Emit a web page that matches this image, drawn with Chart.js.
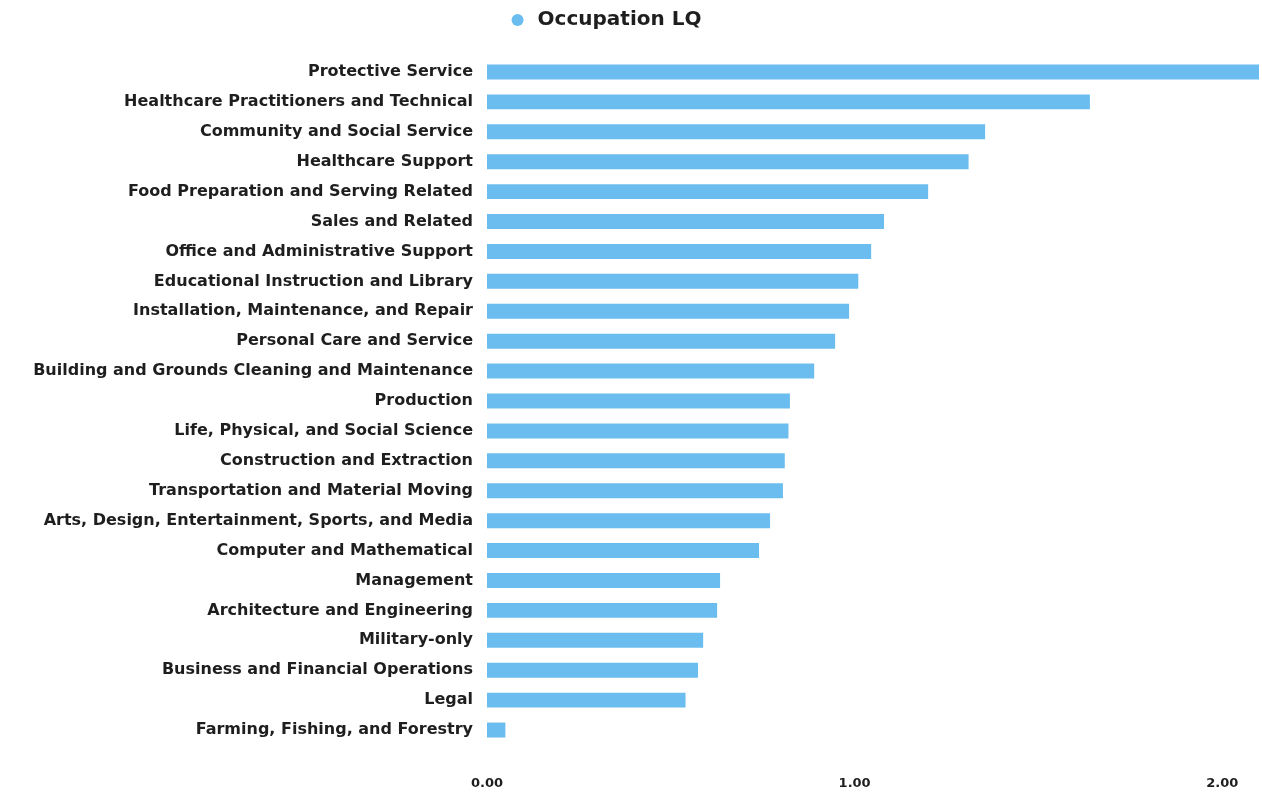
<!DOCTYPE html>
<html>
<head>
<meta charset="utf-8">
<script src="https://cdn.jsdelivr.net/npm/chart.js@4.4.0/dist/chart.umd.min.js"></script>
<style>
    body { margin: 0; background: #ffffff; }
    #wrap { width: 1262px; height: 794px; }
</style>
</head>
<body>
<div id="wrap"><canvas id="lqChart"></canvas></div>
<script>
const occupations = [
    "Protective Service",
    "Healthcare Practitioners and Technical",
    "Community and Social Service",
    "Healthcare Support",
    "Food Preparation and Serving Related",
    "Sales and Related",
    "Office and Administrative Support",
    "Educational Instruction and Library",
    "Installation, Maintenance, and Repair",
    "Personal Care and Service",
    "Building and Grounds Cleaning and Maintenance",
    "Production",
    "Life, Physical, and Social Science",
    "Construction and Extraction",
    "Transportation and Material Moving",
    "Arts, Design, Entertainment, Sports, and Media",
    "Computer and Mathematical",
    "Management",
    "Architecture and Engineering",
    "Military-only",
    "Business and Financial Operations",
    "Legal",
    "Farming, Fishing, and Forestry"
];
const lqValues = [2.10, 1.64, 1.355, 1.31, 1.20, 1.08, 1.045, 1.01, 0.985, 0.947, 0.89, 0.824,
    0.82, 0.81, 0.805, 0.77, 0.74, 0.634, 0.626, 0.588, 0.574, 0.54, 0.05];
const xTicks = [0, 1, 2];

const barColor = "#6abdee";
const textColor = "#1e1e1e";

// extra room under the legend, and nudge it a little left like the original
const legendSpacer = {
    id: "legendSpacer",
    beforeInit(chart) {
        const fit = chart.legend.fit;
        chart.legend.fit = function() {
            fit.bind(chart.legend)();
            this.height += 17;
        };
    },
    afterLayout(chart) {
        chart.legend.left -= 30;
        chart.legend.right -= 30;
    }
};

const ctx = document.getElementById("lqChart").getContext("2d");

new Chart(ctx, {
    type: "bar",
    data: {
        labels: occupations,
        datasets: [{
            label: "Occupation LQ",
            data: lqValues,
            backgroundColor: barColor,
            borderWidth: 0,
            barPercentage: 0.5,
            categoryPercentage: 1.0
        }]
    },
    plugins: [legendSpacer],
    options: {
        indexAxis: "y",
        responsive: true,
        maintainAspectRatio: false,
        animation: false,
        layout: {
            padding: {left: 10, right: 3, top: 2, bottom: 2}
        },
        plugins: {
            tooltip: {enabled: false},
            legend: {
                position: "top",
                labels: {
                    usePointStyle: true,
                    pointStyle: "circle",
                    boxWidth: 20,
                    boxHeight: 8.5,
                    color: textColor,
                    padding: 8,
                    font: {family: "DejaVu Sans", size: 20, weight: "bold"}
                }
            }
        },
        scales: {
            x: {
                min: 0,
                max: 2.1,
                grid: {display: false, drawTicks: false},
                border: {display: false},
                afterBuildTicks: function(scale) {
                    scale.ticks = xTicks.map(v => ({value: v}));
                },
                afterFit: function(scale) {
                    scale.height = 47;
                    scale.paddingLeft = 0;
                    scale.paddingRight = 0;
                },
                ticks: {
                    color: textColor,
                    padding: 31,
                    maxRotation: 0,
                    font: {family: "DejaVu Sans", size: 13, weight: "bold"},
                    callback: function(value) {
                        return Number(value).toFixed(2);
                    }
                }
            },
            y: {
                grid: {display: false, drawTicks: false},
                border: {display: false},
                afterFit: function(scale) {
                    scale.width = 477;
                },
                ticks: {
                    color: textColor,
                    padding: 14,
                    autoSkip: false,
                    font: {family: "DejaVu Sans", size: 16, weight: "bold"}
                }
            }
        }
    }
});
</script>
</body>
</html>
